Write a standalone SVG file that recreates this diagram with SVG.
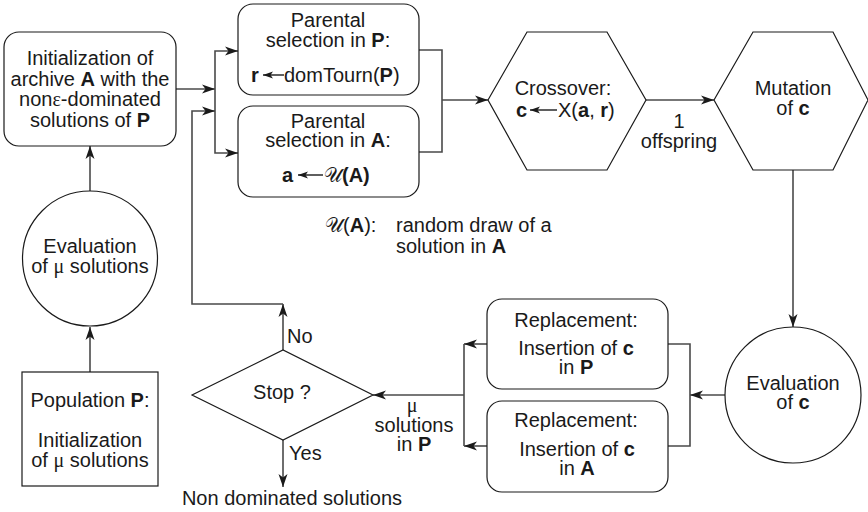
<svg xmlns="http://www.w3.org/2000/svg" width="868" height="512" viewBox="0 0 868 512">
  <style>
    .shape { fill: #ffffff; stroke: #1a1a1a; stroke-width: 1.2; }
    .wire { fill: none; stroke: #4a4a4a; stroke-width: 1.6; }
    .arr { marker-end: url(#head); }
    text { font-family: "Liberation Sans", Arial, Helvetica, sans-serif; font-size: 20px; fill: #1a1a1a; }
    .c { text-anchor: middle; }
    .b { font-weight: bold; }
    .gr { font-family: "Liberation Serif", "DejaVu Serif", serif; }
    .scr { font-family: "DejaVu Serif", "DejaVu Sans", "Noto Sans", serif; }
    .mini { fill: none; stroke: #1a1a1a; stroke-width: 1.4; marker-end: url(#small); }
  </style>
  <defs>
    <marker id="head" markerUnits="userSpaceOnUse" markerWidth="14" markerHeight="10" refX="13" refY="5" orient="auto">
      <path d="M0,0.5 L13,5 L0,9.5 L3.5,5 Z" fill="#1a1a1a"/>
    </marker>
    <marker id="small" markerUnits="userSpaceOnUse" markerWidth="11" markerHeight="8" refX="10" refY="4" orient="auto">
      <path d="M0,0.5 L10,4 L0,7.5 L2.5,4 Z" fill="#1a1a1a"/>
    </marker>
  </defs>

  <!-- connectors -->
  <g id="connectors">
    <path class="wire arr" d="M176,89 H215"/>
    <path class="wire arr" d="M215,89 V51 H238"/>
    <path class="wire arr" d="M215,89 V153 H238"/>
    <path class="wire arr" d="M283,350 V304"/>
    <path class="wire arr" d="M283,304 H192 V111 H215"/>
    <path class="wire" d="M419,50 H442 V152 H419"/>
    <path class="wire arr" d="M442,100 H488"/>
    <path class="wire arr" d="M646,100 H714"/>
    <path class="wire arr" d="M793,170 V327"/>
    <path class="wire arr" d="M725,395 H690"/>
    <path class="wire" d="M668,344 H690 V446 H668"/>
    <path class="wire arr" d="M487,344 H464"/>
    <path class="wire arr" d="M487,446 H464"/>
    <path class="wire" d="M464,344 V446"/>
    <path class="wire arr" d="M464,395 H373"/>
    <path class="wire arr" d="M283,440 V487"/>
    <path class="wire arr" d="M90,191 V146"/>
    <path class="wire arr" d="M90,372 V327"/>
  </g>

  <!-- archive initialisation -->
  <g id="init-archive">
    <rect class="shape" x="4" y="32" width="172" height="114" rx="15"/>
    <text class="c" x="90" y="65">Initialization of</text>
    <text class="c" x="90" y="86">archive <tspan class="b">A</tspan> with the</text>
    <text class="c" x="90" y="106">non<tspan class="gr">ε</tspan>-dominated</text>
    <text class="c" x="90" y="127">solutions of <tspan class="b">P</tspan></text>
  </g>

  <!-- parental selection in P -->
  <g id="select-p">
    <rect class="shape" x="238" y="4" width="181" height="91" rx="15"/>
    <text class="c" x="328" y="27">Parental</text>
    <text class="c" x="328" y="47">selection in <tspan class="b">P</tspan>:</text>
    <text class="b" x="251" y="82">r</text>
    <path class="mini" d="M284,75 H263"/>
    <text x="284" y="82">domTourn(<tspan class="b">P</tspan>)</text>
  </g>

  <!-- parental selection in A -->
  <g id="select-a">
    <rect class="shape" x="238" y="106" width="181" height="91" rx="15"/>
    <text class="c" x="328" y="128">Parental</text>
    <text class="c" x="328" y="147">selection in <tspan class="b">A</tspan>:</text>
    <text class="b" x="282" y="182">a</text>
    <path class="mini" d="M323,175 H298"/>
    <text x="324" y="182"><tspan class="scr">𝒰</tspan><tspan class="b">(A)</tspan></text>
  </g>

  <!-- note on the random draw -->
  <g id="note">
    <text x="325" y="232"><tspan class="scr">𝒰</tspan>(<tspan class="b">A</tspan>):</text>
    <text x="396" y="232">random draw of a</text>
    <text x="396" y="253">solution in <tspan class="b">A</tspan></text>
  </g>

  <!-- crossover -->
  <g id="crossover">
    <polygon class="shape" points="488,100 527,32 607,32 646,100 607,170 527,170"/>
    <text class="c" x="563" y="95">Crossover:</text>
    <text class="b" x="516" y="117">c</text>
    <path class="mini" d="M557,110 H530"/>
    <text x="558" y="117">X(<tspan class="b">a</tspan>, <tspan class="b">r</tspan>)</text>
  </g>

  <!-- offspring label -->
  <g id="offspring-label">
    <text class="c" x="679" y="128">1</text>
    <text class="c" x="679" y="148">offspring</text>
  </g>

  <!-- mutation -->
  <g id="mutation">
    <polygon class="shape" points="714,100 753,32 833,32 868,100 833,170 753,170"/>
    <text class="c" x="793" y="95">Mutation</text>
    <text class="c" x="793" y="115">of <tspan class="b">c</tspan></text>
  </g>

  <!-- evaluation of the child -->
  <g id="eval-c">
    <circle class="shape" cx="793" cy="395" r="68"/>
    <text class="c" x="793" y="390">Evaluation</text>
    <text class="c" x="793" y="409">of <tspan class="b">c</tspan></text>
  </g>

  <!-- replacement in P -->
  <g id="replace-p">
    <rect class="shape" x="487" y="299" width="181" height="90" rx="15"/>
    <text class="c" x="576" y="327">Replacement:</text>
    <text class="c" x="576" y="355">Insertion of <tspan class="b">c</tspan></text>
    <text class="c" x="576" y="374">in <tspan class="b">P</tspan></text>
  </g>

  <!-- replacement in A -->
  <g id="replace-a">
    <rect class="shape" x="487" y="401" width="181" height="91" rx="15"/>
    <text class="c" x="576" y="427">Replacement:</text>
    <text class="c" x="577" y="456">Insertion of <tspan class="b">c</tspan></text>
    <text class="c" x="577" y="475">in <tspan class="b">A</tspan></text>
  </g>

  <!-- mu solutions label -->
  <g id="mu-label">
    <text class="c gr" x="412" y="412">μ</text>
    <text class="c" x="414" y="432">solutions</text>
    <text class="c" x="414" y="451">in <tspan class="b">P</tspan></text>
  </g>

  <!-- stop test -->
  <g id="stop">
    <polygon class="shape" points="192,395 283,350 373,395 283,440"/>
    <text class="c" x="282" y="399">Stop ?</text>
    <text x="287" y="343">No</text>
    <text x="289" y="460">Yes</text>
  </g>

  <g id="result">
    <text class="c" x="292" y="505">Non dominated solutions</text>
  </g>

  <!-- evaluation of the population -->
  <g id="eval-pop">
    <circle class="shape" cx="90" cy="258.5" r="67.5"/>
    <text class="c" x="90" y="253">Evaluation</text>
    <text class="c" x="90" y="273">of <tspan class="gr">μ</tspan> solutions</text>
  </g>

  <!-- population initialisation -->
  <g id="init-pop">
    <rect class="shape" x="22" y="372" width="136" height="114"/>
    <text class="c" x="90" y="407">Population <tspan class="b">P</tspan>:</text>
    <text class="c" x="90" y="447">Initialization</text>
    <text class="c" x="90" y="467">of <tspan class="gr">μ</tspan> solutions</text>
  </g>
</svg>
